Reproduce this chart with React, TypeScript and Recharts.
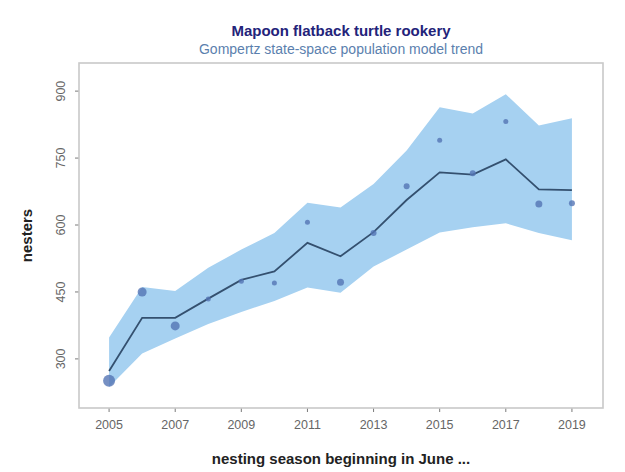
import React from "react";
import {
  ComposedChart,
  Area,
  Line,
  Scatter,
  XAxis,
  YAxis,
} from "recharts";

// nesting seasons and Gompertz state-space fit
const YEARS = [2005, 2006, 2007, 2008, 2009, 2010, 2011, 2012, 2013, 2014, 2015, 2016, 2017, 2018, 2019];
const OBSERVED = [251, 450, 374, 434, 474, 470, 606, 472, 582, 687, 790, 716, 832, 647, 649];
const TREND = [273, 392, 392, 435, 477, 496, 560, 530, 584, 656, 718, 713, 747, 680, 678];
const UPPER = [348, 461, 452, 504, 545, 582, 650, 639, 692, 767, 864, 850, 893, 823, 839];
const LOWER = [237, 312, 346, 378, 405, 430, 460, 448, 507, 545, 583, 595, 604, 582, 566];
// point size ~ survey effort per season
const DOT_R = [6, 4.5, 4.5, 2.5, 2.5, 2.5, 2.5, 3.5, 3, 3, 2.5, 3, 2.5, 3.5, 3];

const X_TICKS = [2005, 2007, 2009, 2011, 2013, 2015, 2017, 2019];
const Y_TICKS = [300, 450, 600, 750, 900];
const X_DOMAIN = [2004.09, 2019.94];
const Y_DOMAIN = [190, 963];

const W = 625;
const H = 472;
const MARGIN = { top: 63, right: 22, bottom: 0, left: 0 };
const Y_AXIS_W = 79;
const X_AXIS_H = 64;

const FONT = '"Liberation Sans", Arial, Helvetica, sans-serif';
const BOX = "#c9c9c9";
const TICK = "#7a7a7a";

const data = YEARS.map((year, i) => ({
  year,
  band: [LOWER[i], UPPER[i]],
  trend: TREND[i],
  obs: OBSERVED[i],
  r: DOT_R[i],
}));

const XTick = ({ x, y, payload }: any) => (
  <text x={x} y={y + 12.5} textAnchor="middle" fill="#666" fontSize={12.5} fontFamily={FONT}>
    {payload.value}
  </text>
);

// R-style vertical tick labels
const YTick = ({ x, y, payload }: any) => (
  <text
    x={x}
    y={y}
    transform={`rotate(-90, ${x}, ${y})`}
    textAnchor="middle"
    fill="#666"
    fontSize={12.5}
    fontFamily={FONT}
  >
    {payload.value}
  </text>
);

const Dot = (props: any) => {
  const { cx, cy, payload } = props;
  if (cx == null || cy == null) return null;
  return <circle cx={cx} cy={cy} r={payload.r} fill="#5474b4" fillOpacity={0.8} />;
};

export default function App() {
  // plot box edges
  const boxX = MARGIN.left + Y_AXIS_W;
  const boxY = MARGIN.top;
  const boxW = W - MARGIN.right - boxX;
  const boxH = H - MARGIN.bottom - X_AXIS_H - boxY;

  return (
    <div style={{ position: "absolute", left: 0, top: 0, width: W, height: H, background: "#fff" }}>
      <ComposedChart width={W} height={H} data={data} margin={MARGIN}>
        <XAxis
          dataKey="year"
          type="number"
          domain={X_DOMAIN}
          ticks={X_TICKS}
          allowDataOverflow
          height={X_AXIS_H}
          tickSize={4}
          tickMargin={4}
          axisLine={false}
          tickLine={{ stroke: TICK }}
          tick={<XTick />}
        />
        <YAxis
          type="number"
          domain={Y_DOMAIN}
          ticks={Y_TICKS}
          allowDataOverflow
          width={Y_AXIS_W}
          tickSize={4}
          tickMargin={10}
          axisLine={false}
          tickLine={{ stroke: TICK }}
          tick={<YTick />}
        />
        <Area
          type="linear"
          dataKey="band"
          stroke="none"
          fill="#a6d1f1"
          fillOpacity={1}
          isAnimationActive={false}
        />
        <Line
          type="linear"
          dataKey="trend"
          stroke="#34506f"
          strokeWidth={1.8}
          dot={false}
          isAnimationActive={false}
        />
        <Scatter dataKey="obs" shape={<Dot />} isAnimationActive={false} />
      </ComposedChart>
      <svg
        width={W}
        height={H}
        style={{ position: "absolute", left: 0, top: 0, pointerEvents: "none" }}
        fontFamily={FONT}
      >
        <rect x={boxX} y={boxY} width={boxW} height={boxH} fill="none" stroke={BOX} strokeWidth={1.6} />
        <text x={341} y={35.5} textAnchor="middle" fontSize={15} fontWeight="bold" fill="#23237a">
          Mapoon flatback turtle rookery
        </text>
        <text x={341} y={54} textAnchor="middle" fontSize={14} fill="#5b7fae">
          Gompertz state-space population model trend
        </text>
        <text x={341} y={464} textAnchor="middle" fontSize={15} fontWeight="bold" fill="#222">
          nesting season beginning in June ...
        </text>
        <text
          x={32}
          y={235.5}
          transform="rotate(-90, 32, 235.5)"
          textAnchor="middle"
          fontSize={15}
          fontWeight="bold"
          fill="#222"
        >
          nesters
        </text>
      </svg>
    </div>
  );
}
